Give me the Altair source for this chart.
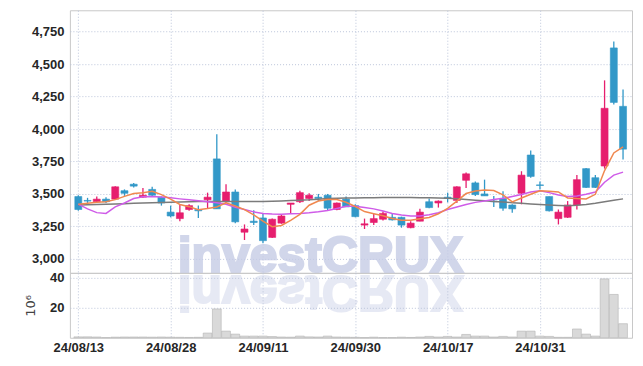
import altair as alt
import pandas as pd

dates = ["08/13","08/14","08/16","08/19","08/20","08/21","08/22","08/23","08/26","08/27",
         "08/28","08/29","08/30","09/02","09/03","09/04","09/05","09/06","09/09","09/10",
         "09/11","09/12","09/13","09/19","09/20","09/23","09/24","09/25","09/26","09/27",
         "09/30","10/02","10/04","10/07","10/08","10/10","10/11","10/14","10/15","10/16",
         "10/17","10/18","10/21","10/22","10/23","10/24","10/25","10/28","10/29","10/30",
         "10/31","11/01","11/04","11/05","11/06","11/07","11/08","11/11","11/12","11/13"]
opens = [3480,3450,3440,3460,3460,3525,3575,3475,3535,3475,3360,3310,3380,3380,3455,3770,3440,3515,3205,3290,
         3315,3165,3275,3420,3440,3465,3475,3490,3380,3460,3410,3260,3280,3305,3320,3320,3240,3290,3440,3430,
         3475,3450,3605,3585,3500,3445,3465,3415,3505,3800,3570,3480,3310,3320,3415,3695,3625,3715,4625,4175]
highs = [3490,3470,3480,3475,3560,3535,3585,3545,3555,3480,3410,3420,3420,3410,3510,3960,3575,3535,3265,3375,
         3345,3310,3340,3430,3525,3505,3500,3500,3435,3480,3420,3310,3345,3365,3345,3325,3290,3385,3465,3450,
         3510,3560,3665,3595,3610,3485,3520,3420,3675,3835,3595,3480,3380,3445,3645,3700,3645,4375,4675,4305]
lows = [3370,3430,3435,3430,3455,3485,3550,3470,3480,3410,3320,3290,3370,3315,3385,3385,3430,3275,3145,3260,
        3120,3160,3270,3350,3430,3445,3445,3375,3375,3400,3320,3230,3260,3295,3295,3240,3235,3290,3390,3395,
        3435,3430,3545,3485,3485,3400,3370,3355,3420,3625,3535,3365,3265,3315,3380,3545,3545,3695,4190,3765]
closes = [3380,3445,3460,3440,3555,3505,3560,3490,3490,3430,3330,3355,3410,3370,3475,3385,3515,3285,3230,3280,
          3140,3305,3330,3430,3510,3490,3465,3390,3430,3400,3325,3270,3310,3350,3300,3260,3275,3360,3395,3445,
          3465,3555,3655,3495,3485,3440,3390,3385,3645,3635,3565,3370,3360,3415,3610,3550,3550,4160,4205,3845]
ma5 = [3420,3428,3436,3440,3456,3481,3504,3510,3520,3495,3460,3419,3402,3379,3388,3400,3432,3407,3379,3339,
       3290,3248,3257,3297,3343,3413,3446,3457,3457,3436,3403,3364,3348,3332,3311,3298,3298,3309,3318,3347,
       3389,3445,3503,3523,3531,3526,3493,3439,3469,3498,3524,3520,3515,3469,3464,3461,3497,3680,3816,3862]
ma20 = [3421,3385,3356,3350,3400,3430,3465,3478,3480,3476,3470,3462,3455,3448,3440,3432,3420,3398,3380,3362,
        3350,3345,3344,3347,3350,3355,3362,3372,3388,3405,3405,3395,3385,3368,3350,3337,3330,3330,3340,3355,
        3380,3400,3418,3435,3446,3458,3466,3480,3495,3515,3525,3510,3492,3480,3485,3498,3515,3590,3645,3668]
ma60 = [3415,3416,3418,3420,3422,3425,3428,3430,3432,3434,3436,3438,3440,3441,3441,3441,3441,3441,3441,3441,
        3441,3443,3446,3449,3452,3455,3460,3465,3467,3468,3469,3470,3471,3472,3472,3472,3472,3471,3470,3469,
        3467,3462,3458,3452,3447,3442,3438,3433,3428,3423,3418,3414,3411,3409,3412,3418,3428,3440,3452,3462]
volumes = [0.6,0.6,0.5,0.1,0.4,0.5,0.5,0.5,0.4,0.5,0.4,0.3,0.2,0.3,3.1,19.1,4.4,2.4,1.1,1.1,
           1.1,0.8,0.5,0.4,1.1,0.6,0.5,1.1,0.5,0.4,0.3,0.1,0.4,0.1,0.1,0.4,0.2,0.5,0.9,0.5,
           0.9,0.5,2.2,1.1,1.1,0.5,0.9,0.5,4.4,4.4,1.1,0.9,0.3,0.3,5.8,2.4,1.1,39.0,28.7,9.3]
tick_labels = ["24/08/13","24/08/28","24/09/11","24/09/30","24/10/17","24/10/31"]
tick_index = [0,10,20,30,40,50]
price_ticks = [3000,3250,3500,3750,4000,4250,4500,4750]
volume_ticks = [20,40]
watermark = "investCRUX"
reflection = ["i","n","v","\u0258","\u01a8","t","\u0186","\u042f","U","X"]

PINK = "#e61e6e"
BLUE = "#3298c8"
GRID = "#bcc5da"
FONT = "Liberation Sans, Arial, sans-serif"
LFS = 13
LC = "#262626"
W, H1, H2 = 563, 263, 65

df = pd.DataFrame({"i": list(range(len(dates))), "date": dates, "open": opens, "high": highs,
                   "low": lows, "close": closes, "ma5": ma5, "ma20": ma20, "ma60": ma60, "vol": volumes})
df["dir"] = ["up" if c >= o else "down" for o, c in zip(opens, closes)]

xscale = alt.Scale(domain=[-0.37, 59.43], nice=False, zero=False)
yscale = alt.Scale(domain=[2892, 4915], nice=False, zero=False)
color = alt.Color("dir:N", scale=alt.Scale(domain=["up", "down"], range=[PINK, BLUE]), legend=None)

x_axis = alt.Axis(values=tick_index, labels=False, ticks=False, domain=False, grid=True,
                  gridDash=[1, 2], gridColor=GRID, title=None)
y_axis = alt.Axis(values=price_ticks, format=",.0f", labelFont=FONT, labelFontSize=LFS,
                  labelFontWeight="bold", labelColor=LC, labelPadding=6, ticks=False,
                  domain=False, grid=True, gridDash=[1, 2], gridColor=GRID, title=None)


def X():
    return alt.X("i:Q", scale=xscale, axis=x_axis)


def Y(f):
    return alt.Y(f, scale=yscale, axis=y_axis)


# watermark (decoration)
arial_bold = {"i": .278, "n": .611, "v": .556, "e": .556, "s": .556, "t": .333,
              "C": .722, "R": .722, "U": .722, "X": .667}
FS = 50
x0 = 108
cx, cum = [], 0.0
for ch in watermark:
    w = arial_bold[ch] * FS
    cx.append(x0 + cum + w / 2)
    cum += w
WMC = "#c6cce6"
wm = alt.Chart(pd.DataFrame({"t": [watermark]})).mark_text(
    font="Liberation Sans, Arial, sans-serif", fontWeight="bold", fontSize=FS, align="left",
    baseline="alphabetic", color=WMC, stroke=WMC, strokeWidth=2.2, opacity=0.8).encode(
    x=alt.value(x0), y=alt.value(H1 - 1), text="t:N")
wm_ref = alt.Chart(pd.DataFrame({"t": reflection, "px": cx})).mark_text(
    font="Liberation Sans, DejaVu Sans, sans-serif", fontWeight="bold", fontSize=FS, align="center",
    baseline="alphabetic", angle=180, color=WMC, stroke=WMC, strokeWidth=2.2, opacity=0.42).encode(
    x=alt.X("px:Q", scale=None, axis=None), y=alt.value(H1 + 3), text="t:N")

base = alt.Chart(df)
wick = base.mark_rule(strokeWidth=1.3).encode(x=X(), y=Y("low:Q"), y2="high:Q", color=color)
body = base.mark_bar(size=7, strokeWidth=0.6).encode(
    x=X(), y=Y("open:Q"), y2="close:Q", color=color, stroke=color)
l60 = base.mark_line(color="#7b7b7b", strokeWidth=1.5).encode(x=X(), y=Y("ma60:Q"))
l20 = base.mark_line(color="#cf5ce8", strokeWidth=1.5).encode(x=X(), y=Y("ma20:Q"))
l5 = base.mark_line(color="#f0884f", strokeWidth=1.5).encode(x=X(), y=Y("ma5:Q"))

price = alt.layer(wick, wm, body, l60, l20, l5, wm_ref).properties(width=W, height=H1)

vol = base.mark_bar(size=8.8, color="#d9d9d9", stroke="#b3b3b3", strokeWidth=0.6).encode(
    x=alt.X("i:Q", scale=xscale, axis=alt.Axis(values=tick_index,
            labelExpr="[" + ",".join("'%s'" % t for t in tick_labels) + "][round(datum.value/10)]",
            labelFont=FONT, labelFontSize=LFS, labelFontWeight="bold", labelColor=LC,
            labelFlush=False, labelPadding=4, ticks=False, domain=False, grid=True,
            gridDash=[1, 2], gridColor=GRID, title=None)),
    y=alt.Y("vol:Q", scale=alt.Scale(domain=[0, 43], nice=False), axis=alt.Axis(
            values=volume_ticks, format="d", labelFont=FONT, labelFontSize=LFS, labelFontWeight="bold",
            labelColor=LC, labelPadding=6, ticks=False, domain=False, grid=True,
            gridDash=[1, 2], gridColor=GRID, title="10\u2076", titleFont="DejaVu Sans",
            titleFontSize=13, titleFontWeight="normal", titleColor="#444",
            titleX=-32, titleY=H2 / 2)),
).properties(width=W, height=H2)

chart = alt.vconcat(price, vol, spacing=0, bounds="flush").properties(
    padding={"left": 16, "top": 1, "right": 2, "bottom": 2}
).configure_view(stroke="#c8c8c8", strokeWidth=1)

chart.save("out.html", embed_options={"renderer": "svg", "actions": False})
